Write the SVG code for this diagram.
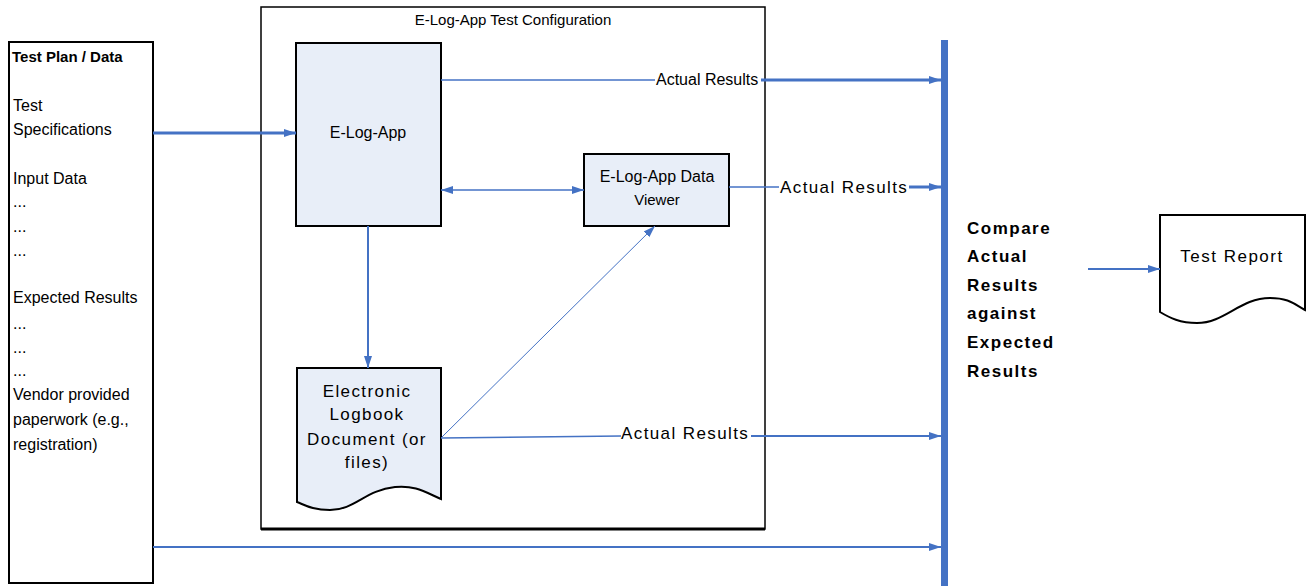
<svg xmlns="http://www.w3.org/2000/svg" width="1306" height="586" viewBox="0 0 1306 586">
<style>
.t{font-family:"Liberation Sans",Arial,sans-serif;fill:#000}
.n{font-size:16px}
.b{font-size:15px;font-weight:bold}
.w{font-size:17px;letter-spacing:1.4px}
.cb{font-size:17px;font-weight:bold;letter-spacing:1.5px}
.box{fill:#E8EEF8;stroke:#000;stroke-width:2}
.c{fill:none;stroke:#4472C4}
</style>
<defs>
<marker id="ah" markerUnits="userSpaceOnUse" markerWidth="12" markerHeight="10" refX="12" refY="5" orient="auto-start-reverse">
<path d="M0,1 L12,5 L0,9 z" fill="#4472C4"/>
</marker>
</defs>
<rect width="1306" height="586" fill="#fff"/>

<g id="test-plan">
<rect x="9" y="42" width="144" height="541" fill="#fff" stroke="#000" stroke-width="2"/>
<text class="t b" x="12" y="62">Test Plan / Data</text>
<text class="t n" x="13" y="111">Test</text>
<text class="t n" x="13" y="135">Specifications</text>
<text class="t n" x="13" y="184">Input Data</text>
<text class="t n" x="13" y="207">...</text>
<text class="t n" x="13" y="232">...</text>
<text class="t n" x="13" y="256">...</text>
<text class="t n" x="13" y="303">Expected Results</text>
<text class="t n" x="13" y="329">...</text>
<text class="t n" x="13" y="353">...</text>
<text class="t n" x="13" y="376">...</text>
<text class="t n" x="13" y="400">Vendor provided</text>
<text class="t n" x="13" y="425">paperwork (e.g.,</text>
<text class="t n" x="13" y="450">registration)</text>
</g>

<g id="test-config">
<rect x="261" y="7" width="504" height="522" fill="none" stroke="#000" stroke-width="1.5"/>
<line x1="261" y1="529" x2="765" y2="529" stroke="#000" stroke-width="3"/>
<text class="t" x="513" y="25" font-size="15" text-anchor="middle">E-Log-App Test Configuration</text>
</g>

<g id="elogapp">
<rect class="box" x="296" y="43" width="145" height="183"/>
<text class="t n" x="368" y="138" text-anchor="middle">E-Log-App</text>
</g>

<g id="viewer">
<rect class="box" x="584" y="154" width="145" height="72"/>
<text class="t n" x="657" y="182" text-anchor="middle">E-Log-App Data</text>
<text class="t" x="657" y="205" font-size="15" text-anchor="middle">Viewer</text>
</g>

<g id="logbook">
<path class="box" d="M297,368 H441 V499 C425,492 415,485 395,487 C365,490 355,510 330,510 C312,510 305,505 297,502 Z"/>
<text class="t w" x="367" y="397" text-anchor="middle">Electronic</text>
<text class="t w" x="367" y="420" text-anchor="middle">Logbook</text>
<text class="t w" x="367" y="445" text-anchor="middle">Document (or</text>
<text class="t w" x="367" y="468" text-anchor="middle">files)</text>
</g>

<g id="compare">
<rect x="941" y="40" width="7" height="546" fill="#4472C4"/>
<text class="t cb" x="967" y="234">Compare</text>
<text class="t cb" x="967" y="262">Actual</text>
<text class="t cb" x="967" y="291">Results</text>
<text class="t cb" x="967" y="319">against</text>
<text class="t cb" x="967" y="348">Expected</text>
<text class="t cb" x="967" y="377">Results</text>
</g>

<g id="report">
<path d="M1160,215 H1305 V310 C1295,305 1290,298 1270,298 C1240,298 1225,323 1197,323 C1180,323 1170,318 1160,312 Z" fill="#fff" stroke="#000" stroke-width="2"/>
<text class="t" x="1232" y="262" font-size="17" letter-spacing="1.5" text-anchor="middle">Test Report</text>
</g>

<g id="connectors">
<path class="c" d="M153,133 H296" stroke-width="3" marker-end="url(#ah)"/>
<path class="c" d="M441,80 H655" stroke-width="1.5"/>
<text class="t" x="656" y="85" font-size="16">Actual Results</text>
<path class="c" d="M761,80 H941" stroke-width="3" marker-end="url(#ah)"/>
<path class="c" d="M441,190 H584" stroke-width="1.5" marker-start="url(#ah)" marker-end="url(#ah)"/>
<path class="c" d="M729,187 H779" stroke-width="1.5"/>
<text class="t w" x="780" y="193">Actual Results</text>
<path class="c" d="M909,187 H941" stroke-width="3" marker-end="url(#ah)"/>
<path class="c" d="M368,226 V368" stroke-width="2" marker-end="url(#ah)"/>
<path class="c" d="M441,438 L655,226" stroke-width="1" marker-end="url(#ah)"/>
<path class="c" d="M441,438 L621,436" stroke-width="1.5"/>
<text class="t w" x="621" y="439">Actual Results</text>
<path class="c" d="M751,436 H941" stroke-width="2" marker-end="url(#ah)"/>
<path class="c" d="M153,547 H941" stroke-width="2" marker-end="url(#ah)"/>
<path class="c" d="M1088,269 H1160" stroke-width="2" marker-end="url(#ah)"/>
</g>
</svg>
